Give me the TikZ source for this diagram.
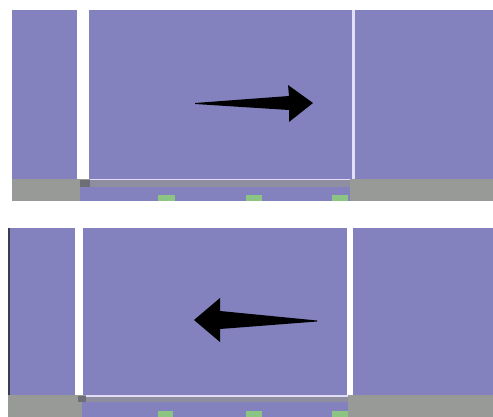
\documentclass[tikz,border=0pt]{standalone}
\definecolor{cpur}{RGB}{131,129,190}
\definecolor{cgry}{RGB}{152,154,152}
\definecolor{cband}{RGB}{142,142,160}
\definecolor{cdark}{RGB}{110,110,118}
\definecolor{cgrn}{RGB}{140,196,130}
\definecolor{cwl}{RGB}{225,222,245}
\definecolor{cedge}{RGB}{60,60,80}
\begin{document}
\begin{tikzpicture}[x=0.75pt,y=-0.75pt,
  pur/.style={fill=cpur},
  gry/.style={fill=cgry},
  band/.style={fill=cband},
  darksq/.style={fill=cdark},
  grn/.style={fill=cgrn},
  wline/.style={fill=cwl},
  arr/.style={fill=black}]
\useasboundingbox (0,0) rectangle (493,417);
\fill[white] (0,0) rectangle (493,417);
% ---------- top panel ----------
\fill[pur] (12,10) rectangle (77,179);
\fill[pur] (89,10) rectangle (493,179);
\fill[wline] (352,10) rectangle (354.5,179);
\fill[gry] (12,179) rectangle (493,201);
\fill[band] (80,180) rectangle (350,187);
\fill[darksq] (80,180) rectangle (90,187);
\fill[wline] (90,179) rectangle (350,180.5);
\fill[pur] (80,187) rectangle (350,201);
\fill[grn] (158,195) rectangle (175,201);
\fill[grn] (246,195) rectangle (262,201);
\fill[grn] (332,195) rectangle (348,201);
\fill[arr] (195,103) -- (289,96) -- (288,85) -- (313,103) -- (289,122) -- (289,110) -- (195,104) -- cycle;
% ---------- bottom panel ----------
\fill[pur] (8,228) rectangle (75,395);
\fill[pur] (83,228) rectangle (347,395);
\fill[pur] (353,228) rectangle (493,395);
\fill[cedge] (8,228) rectangle (10,395);
\fill[gry] (8,395) rectangle (493,417);
\fill[band] (82,396) rectangle (348,402);
\fill[darksq] (78,396) rectangle (86,402);
\fill[wline] (86,395) rectangle (348,396.5);
\fill[pur] (82,402) rectangle (348,417);
\fill[grn] (158,411) rectangle (173,417);
\fill[grn] (246,411) rectangle (262,417);
\fill[grn] (332,411) rectangle (348,417);
\fill[arr] (194,320) -- (220,298) -- (220,311) -- (317,320.5) -- (317,321.5) -- (220,329) -- (220,342) -- cycle;
\end{tikzpicture}
\end{document}
